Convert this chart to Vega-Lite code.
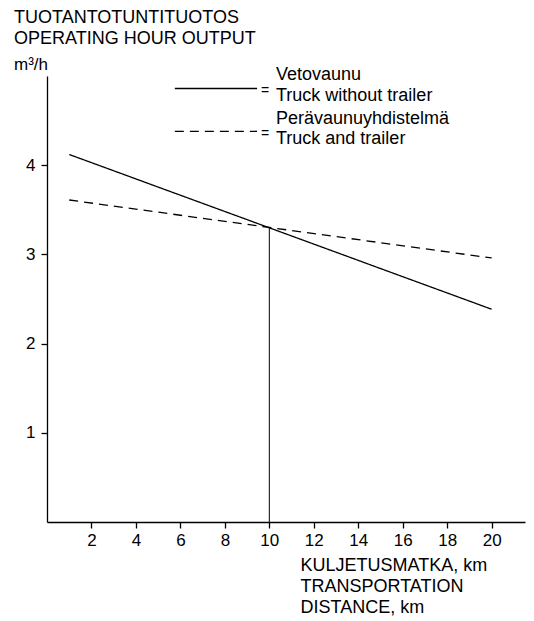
{
  "$schema": "https://vega.github.io/schema/vega-lite/v6.json",
  "width": 478,
  "height": 446,
  "autosize": {"type": "none"},
  "padding": {"left": 47, "top": 76, "right": 9, "bottom": 99},
  "background": "white",
  "config": {
    "view": {"stroke": null},
    "font": "Liberation Sans",
    "axis": {"grid": false, "domainColor": "black", "domainWidth": 1.3, "tickColor": "black", "tickWidth": 1.3, "tickSize": 6, "labelColor": "black", "labelFontSize": 17, "labelFont": "Liberation Sans", "titleColor": "black", "titleFont": "Liberation Sans", "titleFontWeight": "normal"}
  },
  "title": {
    "text": ["TUOTANTOTUNTITUOTOS", "OPERATING HOUR OUTPUT"],
    "subtitle": "m³/h",
    "anchor": "start",
    "frame": "group",
    "dx": -33,
    "dy": 10,
    "offset": 3,
    "fontSize": 18,
    "fontWeight": "normal",
    "lineHeight": 21,
    "color": "black",
    "font": "Liberation Sans",
    "subtitleFont": "Liberation Sans",
    "subtitleFontSize": 17,
    "subtitleColor": "black",
    "subtitlePadding": 9
  },
  "datasets": {
    "lines": [
      {"series": "Vetovaunu", "km": 1, "output": 4.12},
      {"series": "Vetovaunu", "km": 20, "output": 2.385},
      {"series": "Perävaunuyhdistelmä", "km": 1, "output": 3.61},
      {"series": "Perävaunuyhdistelmä", "km": 20, "output": 2.96}
    ],
    "cross": [{"km": 10, "low": 0, "high": 3.3}],
    "legendSamples": [
      {"series": "Vetovaunu", "km": 5.75, "output": 4.86},
      {"series": "Vetovaunu", "km": 9.45, "output": 4.86},
      {"series": "Perävaunuyhdistelmä", "km": 5.75, "output": 4.38},
      {"series": "Perävaunuyhdistelmä", "km": 9.45, "output": 4.38}
    ],
    "legendEq": [
      {"km": 9.62, "output": 4.83, "label": "="},
      {"km": 9.62, "output": 4.35, "label": "="}
    ],
    "legendText": [
      {"km": 10.3, "output": 5.01, "label": "Vetovaunu"},
      {"km": 10.3, "output": 4.78, "label": "Truck without trailer"},
      {"km": 10.3, "output": 4.52, "label": "Perävaunuyhdistelmä"},
      {"km": 10.3, "output": 4.29, "label": "Truck and trailer"}
    ]
  },
  "layer": [
    {
      "data": {"name": "lines"},
      "mark": {"type": "line", "color": "black", "strokeWidth": 1.3, "clip": false},
      "encoding": {
        "x": {
          "field": "km", "type": "quantitative",
          "scale": {"domain": [0, 21.5], "nice": false, "zero": false},
          "axis": {
            "values": [2, 4, 6, 8, 10, 12, 14, 16, 18, 20],
            "format": "d",
            "title": ["KULJETUSMATKA, km", "TRANSPORTATION", "DISTANCE, km"],
            "titleAlign": "left",
            "titleAnchor": "start",
            "titleBaseline": "top",
            "titleX": 253,
            "titleY": 34,
            "titleFontSize": 18,
            "titleLineHeight": 21,
            "labelPadding": 4
          }
        },
        "y": {
          "field": "output", "type": "quantitative",
          "scale": {"domain": [0, 5], "nice": false},
          "axis": {"values": [1, 2, 3, 4], "format": "d", "title": null, "labelPadding": 6}
        },
        "strokeDash": {
          "field": "series", "type": "nominal",
          "scale": {"domain": ["Vetovaunu", "Perävaunuyhdistelmä"], "range": [[1, 0], [9, 6]]},
          "legend": null
        }
      }
    },
    {
      "data": {"name": "cross"},
      "mark": {"type": "rule", "color": "black", "strokeWidth": 1},
      "encoding": {
        "x": {"field": "km", "type": "quantitative"},
        "y": {"field": "low", "type": "quantitative"},
        "y2": {"field": "high"}
      }
    },
    {
      "data": {"name": "legendSamples"},
      "mark": {"type": "line", "color": "black", "strokeWidth": 1.3, "clip": false},
      "encoding": {
        "x": {"field": "km", "type": "quantitative"},
        "y": {"field": "output", "type": "quantitative"},
        "detail": {"field": "series"},
        "strokeDash": {"field": "series", "type": "nominal", "legend": null}
      }
    },
    {
      "data": {"name": "legendEq"},
      "mark": {"type": "text", "color": "black", "fontSize": 14, "align": "left", "baseline": "middle", "font": "Liberation Sans"},
      "encoding": {
        "x": {"field": "km", "type": "quantitative"},
        "y": {"field": "output", "type": "quantitative"},
        "text": {"field": "label"}
      }
    },
    {
      "data": {"name": "legendText"},
      "mark": {"type": "text", "color": "black", "fontSize": 18, "align": "left", "baseline": "middle", "font": "Liberation Sans"},
      "encoding": {
        "x": {"field": "km", "type": "quantitative"},
        "y": {"field": "output", "type": "quantitative"},
        "text": {"field": "label"}
      }
    }
  ]
}
